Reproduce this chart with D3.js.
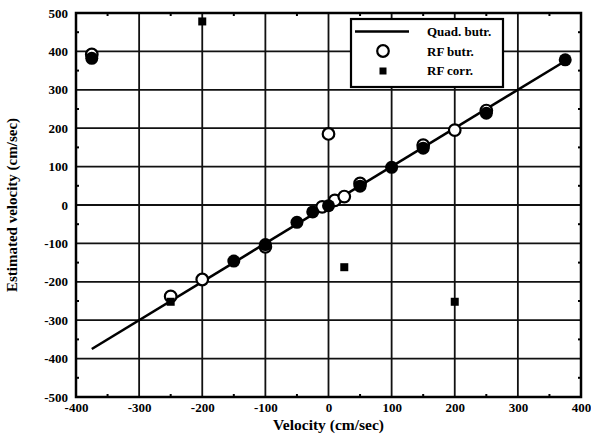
<!DOCTYPE html>
<html>
<head>
<meta charset="utf-8">
<script src="https://cdn.jsdelivr.net/npm/d3@7"></script>
<style>
  html, body { margin: 0; padding: 0; background: #fff; }
  svg { display: block; }
  svg text { font-family: "Times New Roman", "Liberation Serif", "Nimbus Roman", serif !important; font-weight: bold; fill: #000; }
</style>
</head>
<body>
<svg id="chart" width="591" height="438"></svg>
<script>
// Axis ticks
const xTicks = [-400, -300, -200, -100, 0, 100, 200, 300, 400];
const yTicks = [-500, -400, -300, -200, -100, 0, 100, 200, 300, 400, 500];
const xMinor = [-350, -250, -150, -50, 50, 150, 250, 350];
const yMinor = [-450, -350, -250, -150, -50, 50, 150, 250, 350, 450];

// Quadrature butterworth estimate: fitted line endpoints and markers
const quadLine = [[-375, -375], [375, 375]];
const quadX = [-375, -150, -100, -50, -25, 0, 50, 100, 150, 250, 375];
const quadY = [382, -146, -103, -45, -18, -2, 49, 98, 148, 239, 378];

// RF butterworth estimate
const rfButrX = [-375, -250, -200, -100, -10, 0, 10, 25, 50, 150, 200, 250];
const rfButrY = [392, -238, -194, -109, -5, 185, 12, 22, 56, 156, 195, 246];

// RF correlation estimate
const rfCorrX = [-200, -250, 25, 200];
const rfCorrY = [478, -252, -162, -252];

const legendItems = ["Quad. butr.", "RF butr.", "RF corr."];

const svg = d3.select("#chart");
const pLeft = 76, pRight = 581, pTop = 13, pBottom = 397;

const x = d3.scaleLinear().domain([-400, 400]).range([pLeft, pRight]);
const y = d3.scaleLinear().domain([-500, 500]).range([pBottom, pTop]);
const fmt = d => String(d);

// Grid
const grid = svg.append("g").attr("stroke", "#111").attr("stroke-width", 1.8);
grid.selectAll("line.vx").data(xTicks.slice(1, -1)).join("line")
  .attr("x1", d => x(d)).attr("x2", d => x(d)).attr("y1", pTop).attr("y2", pBottom);
grid.selectAll("line.hy").data(yTicks.slice(1, -1)).join("line")
  .attr("y1", d => y(d)).attr("y2", d => y(d)).attr("x1", pLeft).attr("x2", pRight);

// Minor ticks on all four sides, pointing inward
const minor = svg.append("g").attr("stroke", "#000").attr("stroke-width", 2);
xMinor.forEach(v => {
  minor.append("line").attr("x1", x(v)).attr("x2", x(v)).attr("y1", pBottom).attr("y2", pBottom - 3);
  minor.append("line").attr("x1", x(v)).attr("x2", x(v)).attr("y1", pTop).attr("y2", pTop + 3);
});
yMinor.forEach(v => {
  minor.append("line").attr("y1", y(v)).attr("y2", y(v)).attr("x1", pLeft).attr("x2", pLeft + 3);
  minor.append("line").attr("y1", y(v)).attr("y2", y(v)).attr("x1", pRight).attr("x2", pRight - 3);
});

// Tick labels via d3 axes (axis lines removed, labels kept)
const xAxis = svg.append("g").attr("transform", `translate(0,${pBottom})`)
  .call(d3.axisBottom(x).tickValues(xTicks).tickSize(0).tickPadding(6).tickFormat(fmt));
xAxis.select(".domain").remove();
xAxis.selectAll("text").attr("font-size", 13);

const yAxis = svg.append("g").attr("transform", `translate(${pLeft},0)`)
  .call(d3.axisLeft(y).tickValues(yTicks).tickSize(0).tickPadding(8).tickFormat(fmt));
yAxis.select(".domain").remove();
yAxis.selectAll("text").attr("font-size", 13);

// Frame
svg.append("rect").attr("x", pLeft).attr("y", pTop).attr("width", pRight - pLeft).attr("height", pBottom - pTop)
  .attr("fill", "none").attr("stroke", "#000").attr("stroke-width", 2.5);

// Fitted line
svg.append("line")
  .attr("x1", x(quadLine[0][0])).attr("y1", y(quadLine[0][1]))
  .attr("x2", x(quadLine[1][0])).attr("y2", y(quadLine[1][1]))
  .attr("stroke", "#000").attr("stroke-width", 2.6);

// RF butr. open circles
svg.append("g").selectAll("circle").data(rfButrX.map((d, i) => [d, rfButrY[i]])).join("circle")
  .attr("cx", d => x(d[0])).attr("cy", d => y(d[1])).attr("r", 5.8)
  .attr("fill", "#fff").attr("stroke", "#000").attr("stroke-width", 2.2);

// Quad. butr. filled markers
svg.append("g").selectAll("circle").data(quadX.map((d, i) => [d, quadY[i]])).join("circle")
  .attr("cx", d => x(d[0])).attr("cy", d => y(d[1])).attr("r", 6.5)
  .attr("fill", "#000");

// RF corr. squares
svg.append("g").selectAll("rect").data(rfCorrX.map((d, i) => [d, rfCorrY[i]])).join("rect")
  .attr("x", d => x(d[0]) - 4).attr("y", d => y(d[1]) - 4).attr("width", 8).attr("height", 8)
  .attr("fill", "#000");

// Legend
const lg = svg.append("g");
lg.append("rect").attr("x", 351).attr("y", 19).attr("width", 152).attr("height", 68)
  .attr("fill", "#fff").attr("stroke", "#000").attr("stroke-width", 2.2);
lg.append("line").attr("x1", 355).attr("x2", 409).attr("y1", 31.5).attr("y2", 31.5)
  .attr("stroke", "#000").attr("stroke-width", 2.6);
lg.append("circle").attr("cx", 383).attr("cy", 51).attr("r", 5.8)
  .attr("fill", "#fff").attr("stroke", "#000").attr("stroke-width", 2.2);
lg.append("rect").attr("x", 379.5).attr("y", 67.5).attr("width", 7).attr("height", 7).attr("fill", "#000");
lg.selectAll("text").data(legendItems).join("text")
  .attr("x", 427).attr("y", (d, i) => 36 + i * 19.5)
  .attr("font-size", 13).text(d => d);

// Axis titles
svg.append("text").attr("x", (pLeft + pRight) / 2).attr("y", 430).attr("text-anchor", "middle")
  .attr("font-size", 15.5).text("Velocity (cm/sec)");
svg.append("text").attr("transform", `translate(17,${(pTop + pBottom) / 2}) rotate(-90)`)
  .attr("text-anchor", "middle").attr("font-size", 15).text("Estimated velocity (cm/sec)");
</script>
</body>
</html>
